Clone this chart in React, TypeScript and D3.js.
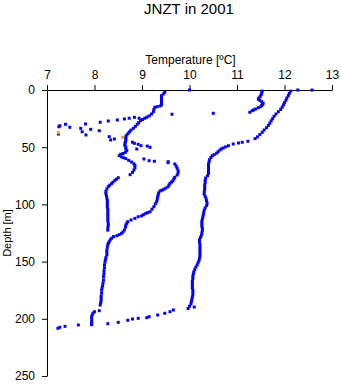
import React, { useEffect, useRef } from "react";
import * as d3 from "d3";

// each point is [temperature in °C, depth in m]
type Pt = [number, number];

const tempTicks = [7, 8, 9, 10, 11, 12, 13];
const depthTicks = [0, 50, 100, 150, 200, 250];

const surfacePoints: Pt[] = [
  [10.0, 0], [12.28, 0], [12.58, 0],
];

const castWarm: Pt[] = [
  [12.13, 1], [12.1, 3], [12.08, 5], [12.05, 7], [12.03, 9], [12.0, 11], [11.98, 13],
  [11.95, 15], [11.92, 17], [11.87, 19], [11.82, 21], [11.78, 23], [11.75, 25], [11.72, 27],
  [11.69, 29], [11.66, 31], [11.62, 33], [11.57, 35], [11.53, 37], [11.48, 39], [11.43, 41],
  [11.38, 42.5], [11.23, 44.8], [11.11, 45.7], [11.03, 46.3], [10.92, 47.2], [10.82, 48.7],
  [10.76, 49.7], [10.71, 50.7], [10.67, 51.5], [10.64, 52.5], [10.6, 54], [10.57, 55.3],
  [10.52, 56.5], [10.48, 57.5], [10.45, 59], [10.42, 61], [10.41, 63], [10.4, 65], [10.4, 67],
  [10.4, 69], [10.4, 71], [10.4, 73], [10.38, 75], [10.34, 77], [10.33, 79], [10.33, 81],
  [10.32, 83], [10.32, 85], [10.32, 87], [10.31, 89], [10.31, 91], [10.33, 93], [10.35, 95],
  [10.36, 97], [10.37, 99], [10.36, 101], [10.33, 103], [10.31, 105], [10.3, 107], [10.29, 109],
  [10.28, 111], [10.27, 113], [10.26, 115], [10.26, 117], [10.26, 119], [10.27, 121],
  [10.27, 123], [10.26, 125], [10.25, 127], [10.23, 129], [10.21, 131], [10.21, 133],
  [10.22, 135], [10.22, 137], [10.22, 139], [10.22, 141], [10.22, 143], [10.22, 145],
  [10.21, 147], [10.2, 149], [10.18, 151], [10.16, 153], [10.13, 155], [10.11, 157],
  [10.09, 159], [10.08, 161], [10.07, 163], [10.07, 165], [10.06, 167], [10.06, 169],
  [10.06, 171], [10.06, 173], [10.07, 175], [10.07, 177], [10.07, 179], [10.06, 181],
  [10.05, 183], [10.04, 185], [10.03, 187], [10.0, 189], [9.97, 191], [10.1, 189.7],
  [9.66, 192.3], [9.59, 193.8], [9.48, 195.2], [9.33, 196.7], [9.15, 198.2], [9.1, 199],
  [8.92, 199.6], [8.8, 200.2], [8.7, 201.3], [8.5, 203.1], [8.28, 204.3],
];

const castShallow: Pt[] = [
  [11.53, 1], [11.52, 2.5], [11.51, 4], [11.49, 5.5], [11.46, 7], [11.45, 8], [11.48, 9],
  [11.52, 10.2], [11.55, 11.5], [11.54, 12.5], [11.52, 13.5], [11.5, 14.6], [11.45, 15.5],
  [11.39, 16.6], [11.35, 17.4], [11.32, 18.1], [11.27, 19.5],
];

const castMid: Pt[] = [
  [9.48, 2], [9.45, 3.5], [9.41, 5], [9.41, 7], [9.41, 9], [9.41, 11], [9.41, 13], [9.38, 14],
  [9.32, 14.6], [9.27, 15.1], [9.25, 17], [9.24, 19], [9.2, 21], [9.15, 22.7], [9.1, 23.8],
  [9.06, 24.7], [9.01, 25.8], [8.97, 26.8], [8.93, 28.5], [8.9, 30], [8.86, 31.8], [8.82, 33.5],
  [8.77, 35], [8.74, 36.5], [8.71, 37.8], [8.68, 39.3], [8.66, 40.8], [8.66, 42.5], [8.66, 44],
  [8.65, 45.5], [8.64, 47], [8.64, 48.5], [8.66, 50], [8.66, 51.5], [8.68, 53], [8.65, 54.5],
  [8.6, 55.5], [8.55, 56.2], [8.52, 57.4], [8.57, 58.5], [8.61, 59.2], [8.66, 60], [8.72, 61.5],
  [8.78, 63], [8.83, 64.5], [8.85, 66], [8.85, 68], [8.83, 70], [8.8, 72], [8.75, 74],
  [8.5, 76.7], [8.46, 78], [8.43, 79], [8.39, 80.5], [8.36, 81.8], [8.32, 83.2], [8.29, 84.5],
  [8.26, 86.5], [8.24, 88.5], [8.24, 90.5], [8.25, 92.5], [8.26, 94.5], [8.27, 96.5],
  [8.27, 98.5], [8.27, 100.5], [8.27, 102.5], [8.28, 104.5], [8.28, 106.5], [8.28, 108.5],
  [8.28, 110.5], [8.28, 112.5], [8.28, 114.5], [8.29, 116.5], [8.29, 118.5], [8.28, 120.5],
  [8.28, 122.5],
];

const castCold: Pt[] = [
  [9.04, 60.3], [9.15, 61.8], [9.26, 62.3], [9.55, 62.7], [9.69, 64.7], [9.72, 66.5],
  [9.74, 68.5], [9.76, 70.5], [9.76, 72.5], [9.74, 74.3], [9.69, 76.3], [9.67, 77.8],
  [9.65, 79.3], [9.62, 80.5], [9.59, 81.6], [9.57, 83], [9.55, 84.5], [9.5, 85.8], [9.46, 86.8],
  [9.42, 87.6], [9.38, 88.3], [9.35, 90], [9.34, 91.8], [9.33, 93.5], [9.32, 95.5], [9.31, 97.6],
  [9.28, 99.5], [9.25, 102], [9.21, 104.2], [9.17, 106.4], [9.12, 107.2], [9.08, 107.8],
  [9.03, 109], [8.99, 110.1], [8.92, 110.8], [8.85, 112.2], [8.77, 113.6], [8.7, 115.1],
  [8.68, 116.5], [8.66, 118], [8.65, 120], [8.63, 122.4], [8.6, 124], [8.57, 125.3],
  [8.52, 126.5], [8.47, 127.4], [8.4, 128.2], [8.36, 129.6], [8.33, 131], [8.31, 132.6],
  [8.29, 134], [8.28, 135.5], [8.27, 137.5], [8.26, 139.9], [8.26, 142], [8.26, 144.2],
  [8.24, 146.5], [8.23, 148.5], [8.22, 150.5], [8.21, 153], [8.21, 155.5], [8.2, 158],
  [8.2, 160.5], [8.19, 163], [8.19, 166], [8.18, 168.5], [8.17, 171], [8.16, 173], [8.15, 175],
  [8.15, 177.5], [8.14, 180], [8.14, 182], [8.14, 184], [8.13, 186], [8.12, 188], [8.1, 192.9],
  [8.0, 193.8], [7.97, 195], [7.95, 196.7], [7.94, 198.5], [7.94, 200.5], [7.94, 202.5],
  [7.94, 204], [7.94, 205.2], [7.66, 205.4], [7.38, 206.6], [7.27, 207.4], [7.23, 208.3],
];

const strayPoints: Pt[] = [
  [8.94, 24.7], [8.84, 23.9], [8.73, 24.7], [8.63, 25.3], [8.48, 26.2], [8.29, 27.1],
  [8.12, 28.2], [7.81, 29.7], [7.71, 33.5], [7.92, 34.4], [7.74, 36.5], [7.82, 39.3],
  [8.1, 35.6], [7.48, 32.6], [7.39, 30], [7.27, 31.2], [7.25, 32.1], [7.24, 38.5],
  [8.31, 40.8], [8.34, 43.7], [8.42, 42.8], [8.8, 45.7], [8.84, 46.6], [8.92, 47.5],
  [8.98, 48.7], [8.89, 51.6], [9.11, 49], [9.17, 50.1], [10.5, 20.4], [9.63, 21.2],
  [9.55, 63.5],
];

const orangePoints: Pt[] = [
  [7.24, 37.3], [8.59, 41.3],
];

const blueCasts = [surfacePoints, castWarm, castShallow, castMid, castCold, strayPoints];

const FONT = "'Liberation Sans', Arial, Helvetica, sans-serif";

const App = () => {
  const ref = useRef<SVGSVGElement>(null);

  useEffect(() => {
    const width = 341;
    const height = 384;
    const margin = { top: 90, right: 9, bottom: 8, left: 47 };

    const svg = d3.select(ref.current);
    svg.selectAll("*").remove();

    const x = d3
      .scaleLinear()
      .domain([7, 13])
      .range([margin.left, width - margin.right]);

    const y = d3
      .scaleLinear()
      .domain([0, 250])
      .range([margin.top, height - margin.bottom]);

    svg
      .append("text")
      .attr("x", 189)
      .attr("y", 14)
      .attr("text-anchor", "middle")
      .attr("font-family", FONT)
      .attr("font-size", 15)
      .text("JNZT in 2001");

    svg
      .append("text")
      .attr("x", (x(7) + x(13)) / 2 + 1)
      .attr("y", 64)
      .attr("text-anchor", "middle")
      .attr("font-family", FONT)
      .attr("font-size", 12)
      .text("Temperature [ºC]");

    svg
      .append("text")
      .attr("transform", `translate(11,${(y(0) + y(250)) / 2}) rotate(-90)`)
      .attr("text-anchor", "middle")
      .attr("font-family", FONT)
      .attr("font-size", 11)
      .text("Depth [m]");

    const xAxis = svg
      .append("g")
      .attr("transform", `translate(0,${margin.top})`)
      .call(
        d3
          .axisTop(x)
          .tickValues(tempTicks)
          .tickFormat(d3.format("d"))
          .tickSize(5)
          .tickSizeOuter(0)
          .tickPadding(6)
      );

    const yAxis = svg
      .append("g")
      .attr("transform", `translate(${margin.left},0)`)
      .call(
        d3
          .axisLeft(y)
          .tickValues(depthTicks)
          .tickFormat(d3.format("d"))
          .tickSize(5)
          .tickSizeOuter(0)
          .tickPadding(7)
      );

    [xAxis, yAxis].forEach((g) => {
      g.attr("font-family", FONT).attr("font-size", 12);
      g.selectAll("text").attr("fill", "#000");
      g.selectAll("line,path").attr("stroke", "#000");
    });

    const pts = svg.append("g");

    blueCasts.forEach((cast) => {
      pts
        .append("g")
        .selectAll("rect")
        .data(cast)
        .enter()
        .append("rect")
        .attr("x", (d) => x(d[0]) - 1.5)
        .attr("y", (d) => y(d[1]) - 1.5)
        .attr("width", 3)
        .attr("height", 3)
        .attr("fill", "#0505f0");
    });

    pts
      .append("g")
      .selectAll("rect")
      .data(orangePoints)
      .enter()
      .append("rect")
      .attr("x", (d) => x(d[0]) - 1.5)
      .attr("y", (d) => y(d[1]) - 1.5)
      .attr("width", 3)
      .attr("height", 3)
      .attr("fill", "#ffa500");
  }, []);

  return (
    <svg
      ref={ref}
      width={341}
      height={384}
      style={{ position: "absolute", left: 0, top: 0, background: "#fff" }}
    />
  );
};

export default App;
